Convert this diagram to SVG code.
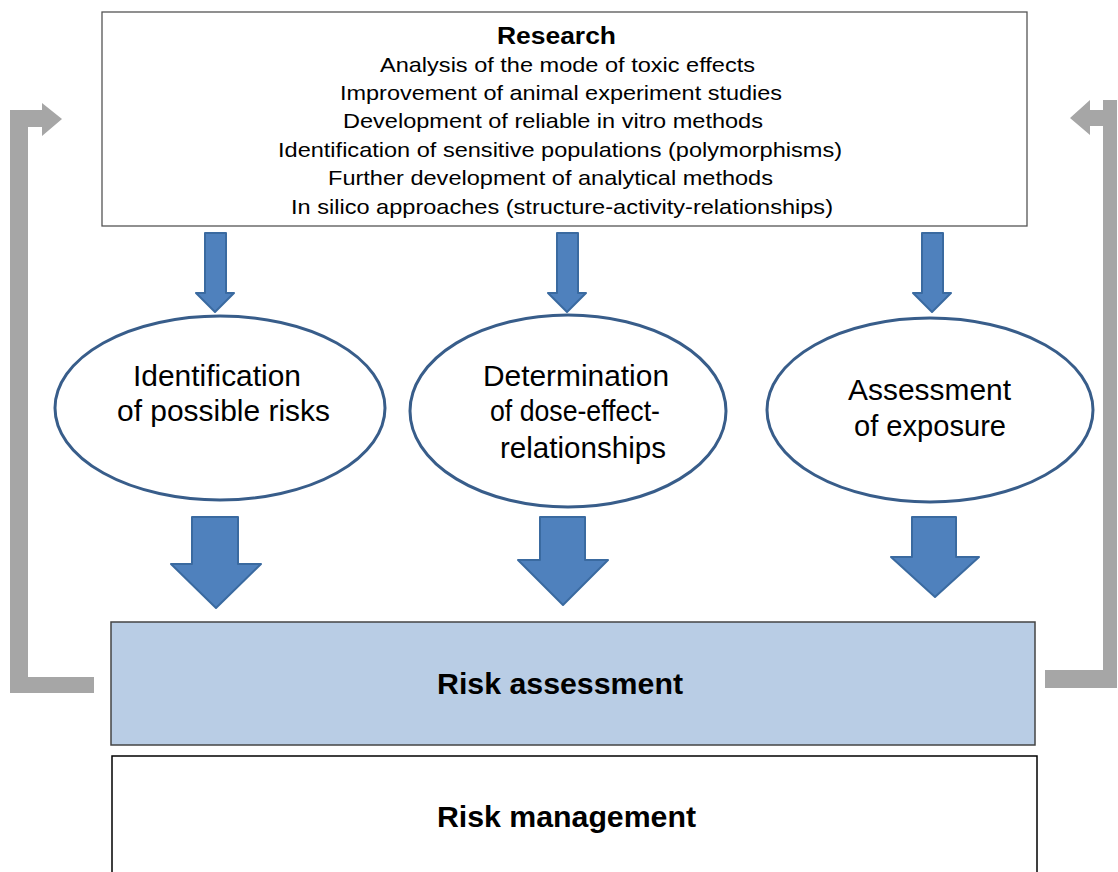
<svg xmlns="http://www.w3.org/2000/svg" width="1118" height="872" viewBox="0 0 1118 872">
<style>
text{font-family:"Liberation Sans",Arial,sans-serif;fill:#000;text-anchor:middle}
.small{font-size:21px}
.title{font-size:23px;font-weight:bold}
.ell{font-size:29px}
.bold{font-size:29px;font-weight:bold}
.arrow{fill:#4f81bd;stroke:#3a6aa0;stroke-width:2;stroke-linejoin:round}
.node{fill:#fff;stroke:#385d8a;stroke-width:3}
.gray{fill:#a6a6a6}
</style>
<rect width="1118" height="872" fill="#fff"/>
<g id="connectors">
<path class="gray" d="M10,110 H42 V103 L62,119 L42,136 V127 H28 V677 H94 V693 H10 Z"/>
<path class="gray" d="M1117,100 V688 H1045 V670 H1103 V126 H1090 V135 L1070,118 L1090,100 V110 H1103 V100 Z"/>
<path class="arrow" d="M205,233 H226 V293 H234 L215,312 L196,293 H205 Z"/>
<path class="arrow" d="M557,233 H578 V293 H586 L567,312 L548,293 H557 Z"/>
<path class="arrow" d="M922,233 H943 V293 H951 L932,312 L913,293 H922 Z"/>
<path class="arrow" d="M192,517 H238 V564 H261 L216,608 L171,564 H192 Z"/>
<path class="arrow" d="M540,517 H585 V560 H608 L563,605 L518,560 H540 Z"/>
<path class="arrow" d="M912,517 H956 V557 H979 L935,597 L891,557 H912 Z"/>
</g>
<g id="research">
<rect x="102" y="12" width="925" height="214" fill="#fff" stroke="#555" stroke-width="1.3"/>
<text class="title" x="556.5" y="44" textLength="119" lengthAdjust="spacingAndGlyphs">Research</text>
<text class="small" x="567.5" y="72" textLength="375" lengthAdjust="spacingAndGlyphs">Analysis of the mode of toxic effects</text>
<text class="small" x="561" y="100" textLength="442" lengthAdjust="spacingAndGlyphs">Improvement of animal experiment studies</text>
<text class="small" x="553" y="128" textLength="420" lengthAdjust="spacingAndGlyphs">Development of reliable in vitro methods</text>
<text class="small" x="560" y="157" textLength="564" lengthAdjust="spacingAndGlyphs">Identification of sensitive populations (polymorphisms)</text>
<text class="small" x="550.5" y="185" textLength="445" lengthAdjust="spacingAndGlyphs">Further development of analytical methods</text>
<text class="small" x="562" y="214" textLength="542" lengthAdjust="spacingAndGlyphs">In silico approaches (structure-activity-relationships)</text>
</g>
<g id="identification">
<ellipse class="node" cx="220" cy="408" rx="165" ry="92"/>
<text class="ell" x="217" y="386" textLength="168" lengthAdjust="spacingAndGlyphs">Identification</text>
<text class="ell" x="223.5" y="421" textLength="213" lengthAdjust="spacingAndGlyphs">of possible risks</text>
</g>
<g id="dose-effect">
<ellipse class="node" cx="568" cy="411" rx="158" ry="96"/>
<text class="ell" x="576" y="386" textLength="186" lengthAdjust="spacingAndGlyphs">Determination</text>
<text class="ell" x="575" y="421" textLength="170" lengthAdjust="spacingAndGlyphs">of dose-effect-</text>
<text class="ell" x="583" y="458" textLength="166" lengthAdjust="spacingAndGlyphs">relationships</text>
</g>
<g id="exposure">
<ellipse class="node" cx="930" cy="410" rx="163" ry="92"/>
<text class="ell" x="929.5" y="400" textLength="163" lengthAdjust="spacingAndGlyphs">Assessment</text>
<text class="ell" x="930" y="436" textLength="152" lengthAdjust="spacingAndGlyphs">of exposure</text>
</g>
<g id="risk-assessment">
<rect x="111" y="622" width="924" height="123" fill="#b9cde5" stroke="#444" stroke-width="1.5"/>
<text class="bold" x="560" y="694" textLength="246" lengthAdjust="spacingAndGlyphs">Risk assessment</text>
</g>
<g id="risk-management">
<rect x="112" y="756" width="925" height="130" fill="#fff" stroke="#000" stroke-width="1.5"/>
<text class="bold" x="566.5" y="827" textLength="259" lengthAdjust="spacingAndGlyphs">Risk management</text>
</g>
</svg>
